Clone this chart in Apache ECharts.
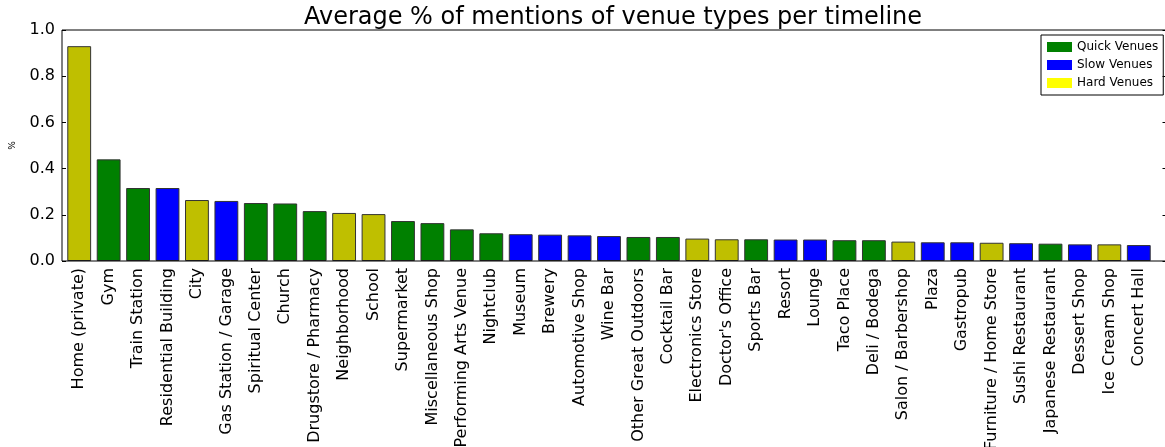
<!DOCTYPE html>
<html>
<head>
<meta charset="utf-8">
<script src="https://cdn.jsdelivr.net/npm/echarts@6/dist/echarts.min.js"></script>
<style>
  html, body { margin: 0; padding: 0; background: #fff; }
  #chart { width: 1165px; height: 447px; }
</style>
</head>
<body>
<div id="chart"></div>
<script>
var venues = ['Home (private)', 'Gym', 'Train Station', 'Residential Building', 'City',
  'Gas Station / Garage', 'Spiritual Center', 'Church', 'Drugstore / Pharmacy', 'Neighborhood',
  'School', 'Supermarket', 'Miscellaneous Shop', 'Performing Arts Venue', 'Nightclub',
  'Museum', 'Brewery', 'Automotive Shop', 'Wine Bar', 'Other Great Outdoors',
  'Cocktail Bar', 'Electronics Store', "Doctor's Office", 'Sports Bar', 'Resort',
  'Lounge', 'Taco Place', 'Deli / Bodega', 'Salon / Barbershop', 'Plaza',
  'Gastropub', 'Furniture / Home Store', 'Sushi Restaurant', 'Japanese Restaurant', 'Dessert Shop',
  'Ice Cream Shop', 'Concert Hall'];
var mentions = [0.93, 0.44, 0.316, 0.316, 0.264,
  0.26, 0.251, 0.249, 0.216, 0.208,
  0.203, 0.173, 0.164, 0.137, 0.12,
  0.116, 0.114, 0.111, 0.108, 0.104,
  0.104, 0.097, 0.094, 0.094, 0.093,
  0.093, 0.09, 0.09, 0.084, 0.081,
  0.081, 0.079, 0.077, 0.075, 0.072,
  0.072, 0.069];
// Q = quick, S = slow, H = hard
var venueType = ['H', 'Q', 'Q', 'S', 'H',
  'S', 'Q', 'Q', 'Q', 'H',
  'H', 'Q', 'Q', 'Q', 'Q',
  'S', 'S', 'S', 'S', 'Q',
  'Q', 'H', 'H', 'Q', 'S',
  'S', 'Q', 'Q', 'H', 'S',
  'S', 'H', 'S', 'Q', 'S',
  'H', 'S'];
var groupNames = ['Quick Venues', 'Slow Venues', 'Hard Venues'];
var groupKeys = ['Q', 'S', 'H'];
var barColors = ['#008000', '#0000ff', '#bfbf00'];
var legendColors = ['#008000', '#0000ff', '#ffff00'];

var font = 'DejaVu Sans';
var myChart = echarts.init(document.getElementById('chart'));

var series = groupKeys.map(function (k, gi) {
  return {
    name: groupNames[gi],
    type: 'bar',
    stack: 'all',
    barWidth: '81%',
    itemStyle: { color: barColors[gi], borderColor: '#333', borderWidth: 1 },
    data: mentions.map(function (v, i) { return venueType[i] === k ? v : '-'; })
  };
});

var option = {
  animation: false,
  backgroundColor: '#fff',
  title: {
    text: 'Average % of mentions of venue types per timeline',
    left: 608, top: 1, textAlign: 'center',
    textStyle: { fontFamily: font, fontSize: 24, fontWeight: 'normal', color: '#000' }
  },
  legend: {
    orient: 'vertical',
    left: 1041, top: 35,
    itemWidth: 25, itemHeight: 10, itemGap: 6,
    padding: [6, 5, 6, 6],
    borderColor: '#000', borderWidth: 1,
    icon: 'rect',
    textStyle: { fontFamily: font, fontSize: 12, color: '#000' },
    data: groupNames.map(function (n, i) {
      return { name: n, itemStyle: { color: legendColors[i], borderWidth: 0 } };
    })
  },
  grid: { left: 64.5, right: 11.5, top: 30, bottom: 186, outerBoundsMode: 'none', containLabel: false },
  graphic: [{
    type: 'rect',
    shape: { x: 62, y: 30, width: 1104, height: 231 },
    style: { fill: null, stroke: '#000', lineWidth: 1 },
    z: 10
  }],
  xAxis: [{
    type: 'category',
    data: venues,
    axisLine: { show: false },
    axisTick: { inside: true, length: 4, alignWithLabel: true, lineStyle: { color: '#000' } },
    axisLabel: { rotate: 90, interval: 0, margin: 7, fontFamily: font, fontSize: 16, color: '#000' }
  }, {
    type: 'category',
    position: 'top',
    data: venues,
    axisLine: { show: false },
    axisTick: { inside: true, length: 4, alignWithLabel: true, lineStyle: { color: '#000' } },
    axisLabel: { show: false }
  }],
  yAxis: [{
    type: 'value',
    min: 0, max: 1, interval: 0.2,
    offset: 2.5,
    name: '%',
    nameLocation: 'middle',
    nameRotate: 90,
    nameGap: 45,
    nameTextStyle: { fontFamily: font, fontSize: 9, color: '#000' },
    splitLine: { show: false },
    axisLine: { show: false },
    axisTick: { show: true, inside: true, length: 4, lineStyle: { color: '#000' } },
    axisLabel: {
      fontFamily: font, fontSize: 16, color: '#000', margin: 7,
      formatter: function (v) { return v.toFixed(1); }
    }
  }, {
    type: 'value',
    position: 'right',
    min: 0, max: 1, interval: 0.2,
    offset: 13,
    splitLine: { show: false },
    axisLine: { show: false },
    axisTick: { show: true, inside: true, length: 4, lineStyle: { color: '#000' } },
    axisLabel: { show: false }
  }],
  series: series
};
myChart.setOption(option);
</script>
</body>
</html>
